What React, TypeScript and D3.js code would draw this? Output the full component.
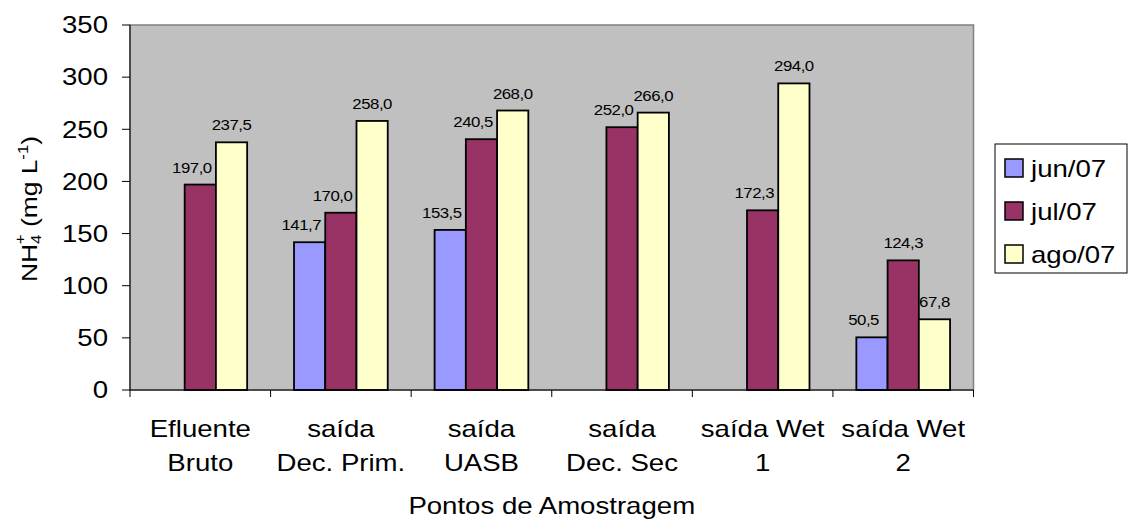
import React from "react";
import * as d3 from "d3";

const categories: string[][] = [
  ["Efluente", "Bruto"],
  ["saída", "Dec. Prim."],
  ["saída", "UASB"],
  ["saída", "Dec. Sec"],
  ["saída Wet", "1"],
  ["saída Wet", "2"],
];
const seriesNames = ["jun/07", "jul/07", "ago/07"];
const seriesColors = ["#9999FF", "#993366", "#FFFFCC"];
const jun: (number | null)[] = [null, 141.7, 153.5, null, null, 50.5];
const jul: (number | null)[] = [197.0, 170.0, 240.5, 252.0, 172.3, 124.3];
const ago: (number | null)[] = [237.5, 258.0, 268.0, 266.0, 294.0, 67.8];
const yTicks = [0, 50, 100, 150, 200, 250, 300, 350];

const W = 1128;
const H = 523;
const plot = { left: 130, right: 973.5, top: 25, bottom: 390 };
const FONT = "'Liberation Sans', Arial, sans-serif";
const SX = 1.2;

function SText(props: {
  x: number;
  y: number;
  size: number;
  anchor?: "start" | "middle" | "end";
  spacing?: number;
  children: React.ReactNode;
}) {
  const { x, y, size, anchor = "middle", spacing = 0, children } = props;
  return (
    <text
      transform={`translate(${x},${y}) scale(${SX},1)`}
      textAnchor={anchor}
      fontSize={size}
      fontFamily={FONT}
      letterSpacing={spacing}
      fill="#000"
    >
      {children}
    </text>
  );
}

export default function App() {
  const series = [jun, jul, ago];
  const x0 = d3
    .scaleBand<number>()
    .domain(categories.map((_, i) => i))
    .range([plot.left, plot.right])
    .padding(0);
  const bw = x0.bandwidth();
  const barW = bw / 4.5;
  const x1 = d3
    .scaleBand<number>()
    .domain([0, 1, 2])
    .range([(bw - 3 * barW) / 2, (bw + 3 * barW) / 2])
    .padding(0);
  const y = d3.scaleLinear().domain([0, 350]).range([plot.bottom, plot.top]);

  const fmt = (v: number) => v.toFixed(1).replace(".", ",");

  const legend = { x: 995, y: 144, w: 132, h: 129 };

  const bars: { key: string; x: number; v: number; si: number; next: number | null }[] = [];
  categories.forEach((_, ci) =>
    series.forEach((s, si) => {
      const v = s[ci];
      if (v == null) return;
      const next = si < 2 ? series[si + 1][ci] : null;
      bars.push({ key: `${ci}-${si}`, x: (x0(ci) as number) + (x1(si) as number), v, si, next });
    })
  );
  const labelHalf = 20;

  return (
    <svg
      width={W}
      height={H}
      style={{ position: "absolute", left: 0, top: 0, background: "#fff" }}
    >
      <rect
        x={plot.left}
        y={plot.top}
        width={plot.right - plot.left}
        height={plot.bottom - plot.top}
        fill="#C0C0C0"
        stroke="#808080"
        strokeWidth={1.5}
      />
      {bars.map((b) => (
        <rect
          key={b.key}
          x={b.x}
          y={y(b.v)}
          width={x1.bandwidth()}
          height={y(0) - y(b.v)}
          fill={seriesColors[b.si]}
          stroke="#000"
          strokeWidth={1.8}
        />
      ))}
      {bars.map((b) => {
        const bwid = x1.bandwidth();
        let cx = b.x + bwid / 2;
        if (b.next != null && b.next > b.v) {
          cx = Math.min(cx, b.x + bwid - 4 - labelHalf);
        }
        return (
          <SText key={b.key} x={cx} y={y(b.v) - 12} size={14} spacing={-0.4}>
            {fmt(b.v)}
          </SText>
        );
      })}
      <line x1={plot.left} x2={plot.left} y1={plot.top} y2={plot.bottom} stroke="#000" strokeWidth={1} />
      <line x1={plot.left} x2={plot.right} y1={plot.bottom} y2={plot.bottom} stroke="#000" strokeWidth={1} />
      {yTicks.map((t) => (
        <g key={t}>
          <line x1={plot.left - 8} x2={plot.left} y1={y(t)} y2={y(t)} stroke="#000" />
          <SText x={108} y={y(t) + 8.3} size={23} anchor="end">
            {t}
          </SText>
        </g>
      ))}
      {d3.range(categories.length + 1).map((i) => {
        const tx = plot.left + i * bw;
        return <line key={i} x1={tx} x2={tx} y1={plot.bottom} y2={plot.bottom + 7} stroke="#000" />;
      })}
      {categories.map((c, i) => {
        const cx = (x0(i) as number) + bw / 2;
        return (
          <g key={i}>
            <SText x={cx} y={437} size={23}>
              {c[0]}
            </SText>
            <SText x={cx} y={471} size={23}>
              {c[1]}
            </SText>
          </g>
        );
      })}
      <SText x={(plot.left + plot.right) / 2} y={514} size={23}>
        Pontos de Amostragem
      </SText>
      <text
        transform={`translate(37,209) rotate(-90) scale(${SX},1)`}
        textAnchor="middle"
        fontSize={22}
        fontFamily={FONT}
        fill="#000"
      >
        NH
        <tspan fontSize={14} dy={4}>4</tspan>
        <tspan fontSize={14} dx={-8} dy={-16}>+</tspan>
        <tspan dy={12}> (mg L</tspan>
        <tspan fontSize={14} dy={-9}>-1</tspan>
        <tspan dy={9}>)</tspan>
      </text>
      <rect x={legend.x} y={legend.y} width={legend.w} height={legend.h} fill="#fff" stroke="#000" strokeWidth={1} />
      {seriesNames.map((n, i) => {
        const ry = 159 + i * 43;
        return (
          <g key={n}>
            <rect x={1005} y={ry} width={18} height={18} fill={seriesColors[i]} stroke="#000" strokeWidth={1.5} />
            <SText x={1031} y={ry + 18} size={23} anchor="start">
              {n}
            </SText>
          </g>
        );
      })}
    </svg>
  );
}
